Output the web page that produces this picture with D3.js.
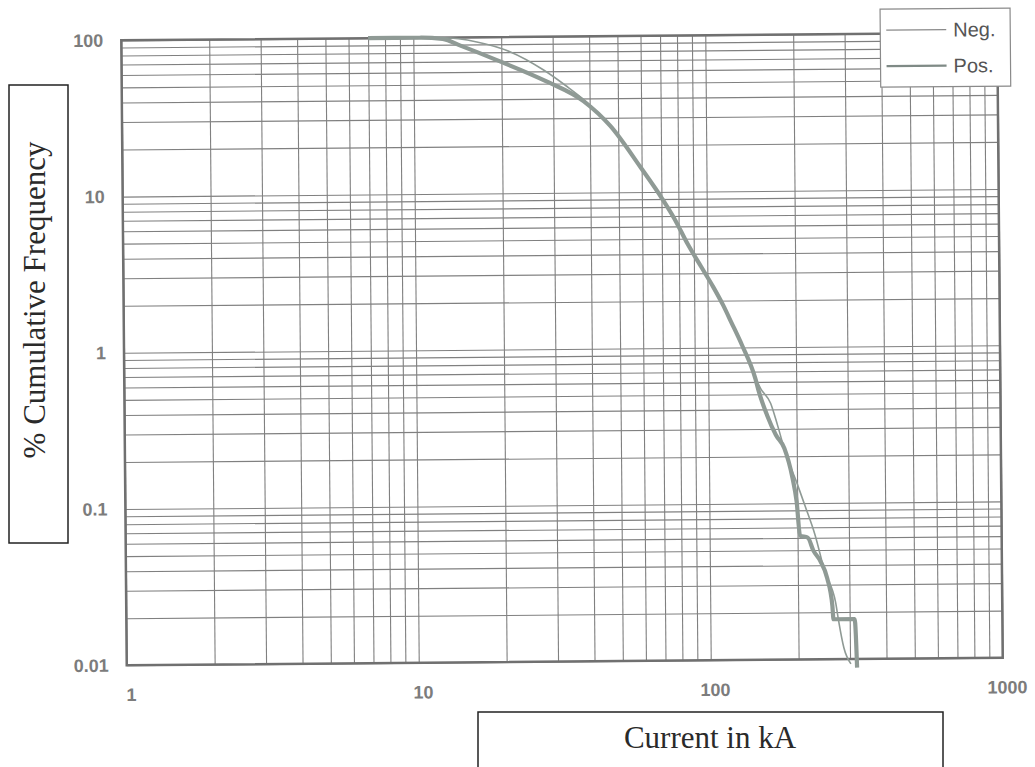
<!DOCTYPE html>
<html>
<head>
<meta charset="utf-8">
<script src="https://cdn.jsdelivr.net/npm/d3@7"></script>
<style>
  body { margin: 0; background: #fff; }
  svg { display: block; }
</style>
</head>
<body>
<svg id="chart"></svg>
<script>
// values (current in kA, % cumulative frequency)
const negCurrent = [9, 12.6, 16.5, 21.4, 27.8, 33.4, 38.1, 47, 59.5, 70.5, 77.5, 85.9, 95.3, 104.5, 113, 120.4, 130.6, 145, 150.9, 163.2, 172, 183.7, 198.8, 212, 229.5, 248, 269, 275, 286, 302];
const negFreq = [100, 99.6, 93.3, 80.5, 61.4, 48.0, 39.5, 26.8, 14.5, 9.0, 6.7, 4.6, 3.3, 2.46, 1.88, 1.46, 1.05, 0.64, 0.546, 0.438, 0.318, 0.204, 0.138, 0.0975, 0.0627, 0.0356, 0.0229, 0.0175, 0.0118, 0.0093];

const posCurrent = [7, 10.5, 12.6, 14.5, 19.3, 28.5, 38.1, 47, 59.5, 70.5, 77.5, 85.9, 95.3, 104.5, 113, 120.4, 130.6, 145, 148.9, 158.6, 169.8, 181.3, 193, 199, 204, 217, 226, 239, 252, 262, 264, 312, 317];
const posFreq = [100, 100, 98, 88.5, 71.2, 51.7, 38.5, 26.6, 14.4, 9.0, 6.7, 4.6, 3.3, 2.46, 1.87, 1.45, 1.04, 0.63, 0.52, 0.367, 0.274, 0.225, 0.145, 0.103, 0.062, 0.060, 0.050, 0.0425, 0.033, 0.0219, 0.018, 0.018, 0.0088];

const xTicks = [1, 10, 100, 1000];
const yTicks = [0.01, 0.1, 1, 10, 100];
const yTickLabels = ['0.01', '0.1', '1', '10', '100'];
const seriesNames = ['Neg.', 'Pos.'];

const width = 1035;
const height = 767;
const plot = { left: 124, right: 1000, top: 36.5, bottom: 661.5 };

const svg = d3.select('#chart').attr('width', width).attr('height', height);

const x = d3.scaleLog().domain([1, 1000]).range([plot.left, plot.right]);
const y = d3.scaleLog().domain([0.01, 100]).range([plot.bottom, plot.top]);

// minor grid: 1..9 per decade
const xGrid = [];
[1, 10, 100].forEach((k) => d3.range(1, 10).forEach((m) => xGrid.push(k * m)));
xGrid.push(1000);
const yGrid = [];
[0.01, 0.1, 1, 10].forEach((k) => d3.range(1, 10).forEach((m) => yGrid.push(+(k * m).toPrecision(3))));
yGrid.push(100);

// the scan is tilted a little, so the whole chart frame is rotated
const g = svg.append('g').attr('transform', 'rotate(-0.5, 562, 349)');

const gridColor = '#808080';

g.append('g')
    .attr('transform', `translate(0,${plot.bottom})`)
    .call(d3.axisBottom(x).tickValues(xGrid).tickSize(-(plot.bottom - plot.top)).tickFormat(''))
    .call((s) => s.select('.domain').remove())
    .call((s) => s.selectAll('line').attr('stroke', gridColor).attr('stroke-width', 1.1));

g.append('g')
    .attr('transform', `translate(${plot.left},0)`)
    .call(d3.axisLeft(y).tickValues(yGrid).tickSize(-(plot.right - plot.left)).tickFormat(''))
    .call((s) => s.select('.domain').remove())
    .call((s) => s.selectAll('line').attr('stroke', gridColor).attr('stroke-width', 1.1));

// frame
g.append('rect')
    .attr('x', plot.left)
    .attr('y', plot.top)
    .attr('width', plot.right - plot.left)
    .attr('height', plot.bottom - plot.top)
    .attr('fill', 'none')
    .attr('stroke', '#707070')
    .attr('stroke-width', 2.5);

// tick labels
const labelFont = (s) => s.selectAll('text')
    .attr('font-family', 'Liberation Sans, Arial, sans-serif')
    .attr('font-size', 18)
    .attr('font-weight', 'bold')
    .attr('fill', '#7c7c7c');

g.append('g')
    .attr('transform', `translate(0,${plot.bottom})`)
    .call(d3.axisBottom(x).tickValues(xTicks).tickSize(0).tickPadding(23).tickFormat(d3.format('d')))
    .call((s) => s.select('.domain').remove())
    .call(labelFont)
    .call((s) => s.selectAll('text').attr('dx', 4));

g.append('g')
    .attr('transform', `translate(${plot.left},0)`)
    .call(d3.axisLeft(y).tickValues(yTicks).tickSize(0).tickPadding(18).tickFormat((d, i) => yTickLabels[i]))
    .call((s) => s.select('.domain').remove())
    .call(labelFont);

// curves
const curveColor = '#8f9a95';
const line = d3.line()
    .x((d) => x(d[0]))
    .y((d) => y(d[1]))
    .curve(d3.curveMonotoneX);

g.append('path')
    .datum(negCurrent.map((c, i) => [c, negFreq[i]]))
    .attr('d', line)
    .attr('fill', 'none')
    .attr('stroke', curveColor)
    .attr('stroke-width', 1.6);

g.append('path')
    .datum(posCurrent.map((c, i) => [c, posFreq[i]]))
    .attr('d', line)
    .attr('fill', 'none')
    .attr('stroke', curveColor)
    .attr('stroke-width', 4.2)
    .attr('stroke-linejoin', 'round');

// legend
const legend = g.append('g').attr('transform', 'translate(883,12)');
legend.append('rect')
    .attr('width', 130)
    .attr('height', 78)
    .attr('fill', '#fff')
    .attr('stroke', '#8a8a8a')
    .attr('stroke-width', 1.2);

seriesNames.forEach((name, i) => {
    const ly = 21 + i * 36;
    legend.append('line')
        .attr('x1', 6).attr('x2', 66)
        .attr('y1', ly).attr('y2', ly)
        .attr('stroke', i === 0 ? '#8a8a8a' : '#7f8a86')
        .attr('stroke-width', i === 0 ? 1.3 : 2.4);
    legend.append('text')
        .attr('x', 73)
        .attr('y', ly + 7)
        .attr('font-family', 'Liberation Sans, Arial, sans-serif')
        .attr('font-size', 20)
        .attr('fill', '#555')
        .text(name);
});

// axis title boxes (pasted on, not tilted)
svg.append('rect')
    .attr('x', 9).attr('y', 85)
    .attr('width', 59).attr('height', 458)
    .attr('fill', '#fff')
    .attr('stroke', '#222')
    .attr('stroke-width', 1.5);
svg.append('text')
    .attr('transform', 'translate(45,300) rotate(-90)')
    .attr('text-anchor', 'middle')
    .attr('font-family', 'Liberation Serif, Times New Roman, serif')
    .attr('font-size', 31)
    .attr('fill', '#2a2a2a')
    .text('% Cumulative Frequency');

svg.append('rect')
    .attr('x', 478).attr('y', 712)
    .attr('width', 465).attr('height', 80)
    .attr('fill', '#fff')
    .attr('stroke', '#222')
    .attr('stroke-width', 1.5);
svg.append('text')
    .attr('x', 710)
    .attr('y', 748)
    .attr('text-anchor', 'middle')
    .attr('font-family', 'Liberation Serif, Times New Roman, serif')
    .attr('font-size', 31)
    .attr('fill', '#2a2a2a')
    .text('Current in kA');
</script>
</body>
</html>
